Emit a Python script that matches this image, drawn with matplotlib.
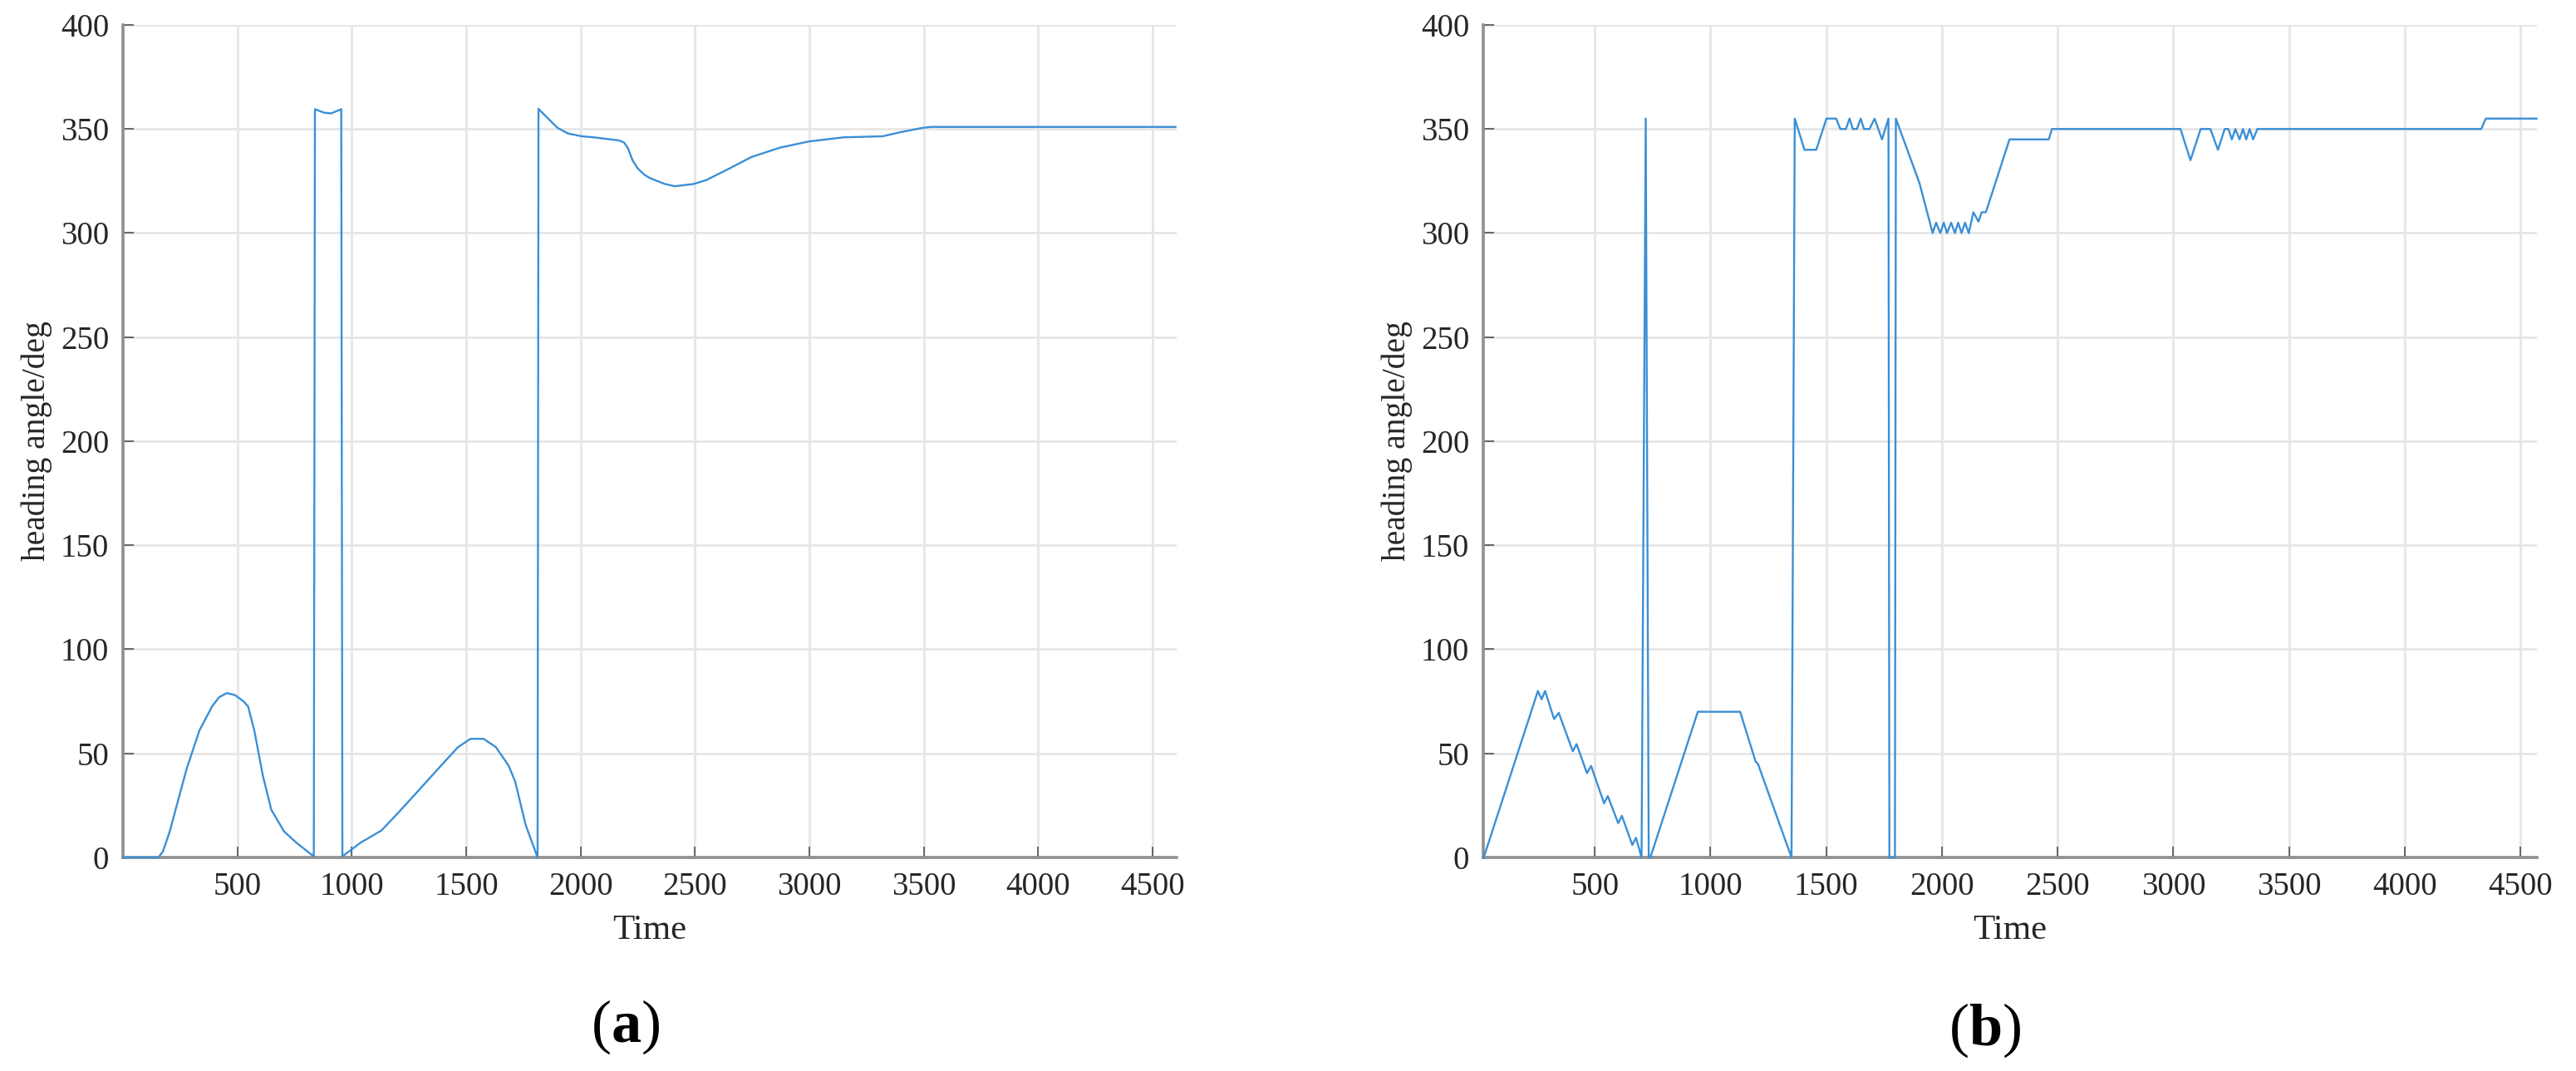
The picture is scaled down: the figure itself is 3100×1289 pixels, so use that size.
import numpy as np
import matplotlib
matplotlib.use("Agg")
import matplotlib.pyplot as plt

plt.rcParams['font.family'] = ['Liberation Serif', 'DejaVu Serif']
plt.rcParams['mathtext.fontset'] = 'custom'
plt.rcParams['mathtext.rm'] = 'Liberation Serif'
plt.rcParams['mathtext.bf'] = 'Liberation Serif:bold'

# (a) heading angle, smooth controller
time_a = [0, 155, 175, 203, 240, 278, 334, 389, 420, 454, 490, 527, 547, 574, 611, 648, 704,
          759, 834, 839, 880, 910, 954, 959, 1037, 1130, 1204, 1278, 1389, 1464, 1519, 1576,
          1630, 1686, 1714, 1760, 1812, 1816, 1840, 1871, 1900, 1946, 2005, 2057, 2168, 2190,
          2206, 2227, 2250, 2279, 2301, 2368, 2412, 2495, 2550, 2650, 2746, 2870, 2997, 3150,
          3320, 3400, 3487, 3530, 4600]
heading_a = [0, 0, 3, 12, 27, 42.5, 61, 72.5, 77, 79, 78, 75, 72.5, 61, 39.5, 23, 12.5,
             7, 0.5, 359.5, 357.8, 357.5, 359.5, 0.5, 7, 13, 21.6, 30.5, 44, 53, 57, 57,
             53, 44, 36.5, 15.6, 0, 359.7, 357, 353.6, 350.5, 347.8, 346.5, 346, 344.5, 343.5,
             341, 335, 331, 328, 326.5, 323.6, 322.5, 323.6, 325.5, 331, 336.5, 341, 344, 346,
             346.5, 348.5, 350.4, 351, 351]

# (b) heading angle, discrete controller
time_b = [20, 254, 270, 285, 324, 344, 405, 421, 466, 484, 540, 556, 601, 617, 662, 678,
          702, 720, 733, 740, 945, 1128, 1195, 1205, 1350, 1364, 1406, 1457, 1501, 1543,
          1561, 1585, 1601, 1615, 1633, 1649, 1663, 1687, 1709, 1741, 1769, 1773, 1797, 1801,
          1903, 1960, 1975, 1993, 2008, 2022, 2040, 2056, 2070, 2085, 2100, 2116, 2136, 2158,
          2172, 2190, 2292, 2462, 2475, 3031, 3074, 3118, 3160, 3193, 3222, 3238, 3253, 3268,
          3286, 3301, 3315, 3330, 3345, 3363, 4331, 4350, 4570]
heading_b = [0, 80, 76, 80, 66.5, 69.5, 51, 54.5, 40.5, 44, 26, 29.5, 16.5, 20, 6, 9.5,
             0, 355, 0, 0, 70, 70, 46, 45, 0, 355, 340, 340, 355, 355,
             350, 350, 355, 350, 350, 355, 350, 350, 355, 345, 355, 0, 0, 355,
             324, 300, 305, 300, 305, 300, 305, 300, 305, 300, 305, 300, 310, 305.5,
             310, 310, 345, 345, 350, 350, 335, 350, 350, 340, 350, 350, 345, 350,
             345, 350, 345, 350, 345, 350, 350, 355, 355]

xticks = [500, 1000, 1500, 2000, 2500, 3000, 3500, 4000, 4500]
yticks = [0, 50, 100, 150, 200, 250, 300, 350, 400]

line_color = '#3a8fd6'

fig = plt.figure(figsize=(31, 12.89), dpi=100)
ax_a = fig.add_axes([0.04774, 0.19938, 0.40903, 0.77735])
ax_b = fig.add_axes([0.57581, 0.19938, 0.40890, 0.77735])


def style_axes(ax, xlim):
    ax.set_xlim(xlim)
    ax.set_ylim(0, 400)
    ax.set_xticks(xticks)
    ax.set_yticks(yticks)
    ax.grid(True, color='#e6e6e6', linewidth=2.0)
    ax.set_axisbelow(True)
    for side in ['top', 'right']:
        ax.spines[side].set_visible(False)
    for side in ['left', 'bottom']:
        ax.spines[side].set_color('#8f8f8f')
        ax.spines[side].set_linewidth(2.6)
    ax.tick_params(direction='in', length=9.5, width=1.2, color='#505050',
                   labelsize=28, labelcolor='#262626')
    ax.tick_params(axis='x', pad=12)
    ax.tick_params(axis='y', pad=12)
    ax.set_xlabel('Time', fontsize=31, color='#262626')
    ax.xaxis.set_label_coords(0.5, -0.088)
    ax.xaxis.label.set_verticalalignment('center')
    ax.set_ylabel('heading angle/deg', fontsize=28.5, color='#262626')
    ax.yaxis.set_label_coords(-0.082, 0.5)
    ax.yaxis.label.set_verticalalignment('center')


# lines drawn above the spines so the zero segments stay visible
ax_a.plot(time_a, heading_a, color=line_color, linewidth=1.7, zorder=3, clip_on=False)
style_axes(ax_a, (0, 4605))
ax_b.plot(time_b, heading_b, color=line_color, linewidth=1.7, zorder=3, clip_on=False)
style_axes(ax_b, (18, 4570))

fig.text(0.2429, 0.041, r'(${\bf a}$)', fontsize=52, ha='center', va='center', color='black')
fig.text(0.7706, 0.038, r'(${\bf b}$)', fontsize=52, ha='center', va='center', color='black')

fig.savefig('out.png', dpi=100)
